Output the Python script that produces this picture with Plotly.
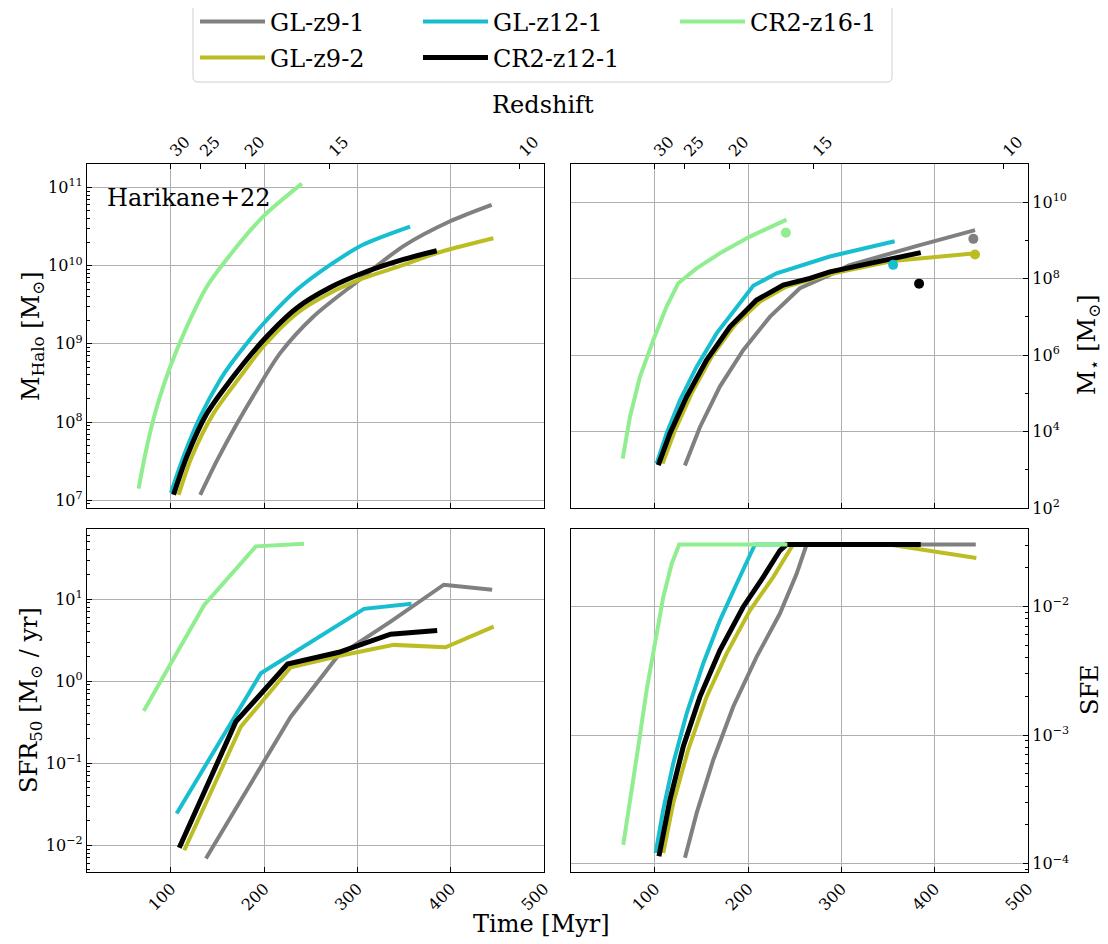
import plotly.graph_objects as go

# ---------------- data ----------------
names = ["GL-z9-1", "GL-z9-2", "GL-z12-1", "CR2-z12-1", "CR2-z16-1"]
colors = ["#808080", "#bcbd22", "#17becf", "#000000", "#90ee90"]

# Redshift axis (top): cosmic time [Myr] of each redshift tick
z_tick_time = [100, 132, 180, 270, 474]
z_tick_text = ["30", "25", "20", "15", "10"]

# Halo mass [Msun]
t_halo_gl_z9_1 = [131.4, 149.3, 170.7, 192.1, 217.1, 252.9, 300, 349.3, 399.3, 443.9]
m_halo_gl_z9_1 = [1.17e7, 3.2e7, 9.5e7, 2.57e8, 7.6e8, 2.24e9, 6.3e9, 1.78e10, 3.7e10, 6.0e10]
t_halo_gl_z9_2 = [108.2, 122.5, 145.7, 174.3, 199.3, 235, 270.7, 306.4, 349.3, 385, 445.7]
m_halo_gl_z9_2 = [1.17e7, 3.63e7, 1.29e8, 3.8e8, 9.3e8, 2.45e9, 4.47e9, 6.9e9, 1.02e10, 1.45e10, 2.24e10]
t_halo_gl_z12_1 = [100, 113.5, 131.4, 152.8, 163.6, 181.5, 199.3, 235, 270.7, 306.4, 356.4]
m_halo_gl_z12_1 = [1.24e7, 3.63e7, 1.17e8, 3.47e8, 5.4e8, 1.02e9, 1.82e9, 4.9e9, 1.02e10, 1.86e10, 3.16e10]
t_halo_cr2_z12_1 = [102.8, 117.1, 138.6, 163.6, 199.3, 235, 270.7, 306.4, 349.3, 385]
m_halo_cr2_z12_1 = [1.17e7, 3.63e7, 1.29e8, 3.39e8, 1.12e9, 2.88e9, 5.25e9, 8.1e9, 1.2e10, 1.55e10]
t_halo_cr2_z16_1 = [65.3, 74.3, 85, 99.2, 117.1, 138.6, 163.6, 199.3, 240.4]
m_halo_cr2_z16_1 = [1.41e7, 4.9e7, 1.58e8, 5.1e8, 1.66e9, 5.4e9, 1.38e10, 4.3e10, 1.12e11]

# Stellar mass [Msun]
t_star_gl_z9_1 = [132.1, 148.2, 169.6, 194.6, 223.2, 255.4, 287.5, 308, 383, 443.2]
m_star_gl_z9_1 = [1.3e3, 1.3e4, 1.5e5, 1.35e6, 1.0e7, 5.6e7, 1.26e8, 2.24e8, 7.4e8, 1.86e9]
t_star_gl_z9_2 = [108.2, 121.4, 139.3, 160.7, 185.7, 212.5, 241.1, 266.1, 287.5, 354.6, 443.9]
m_star_gl_z9_2 = [1.45e3, 1.07e4, 1.0e5, 9.1e5, 6.2e6, 2.5e7, 6.2e7, 9.3e7, 1.32e8, 2.9e8, 4.6e8]
t_star_gl_z12_1 = [101.8, 112.5, 126.8, 144.6, 166.1, 187.5, 205.4, 230.4, 287.5, 357]
m_star_gl_z12_1 = [1.45e3, 8.9e3, 6.6e4, 4.9e5, 3.7e6, 1.86e7, 6.5e7, 1.38e8, 3.8e8, 9.5e8]
t_star_cr2_z12_1 = [103.6, 116.1, 133.9, 155.4, 180.4, 208.9, 237.5, 266.1, 287.5, 385]
m_star_cr2_z12_1 = [1.32e3, 8.9e3, 8.1e4, 7.4e5, 5.5e6, 2.75e7, 6.8e7, 1.02e8, 1.51e8, 4.8e8]
t_star_cr2_z16_1 = [65.4, 73.2, 83.9, 98.2, 112.5, 125, 144.6, 169.6, 201.8, 241.1]
m_star_cr2_z16_1 = [1.95e3, 2.4e4, 2.7e5, 2.45e6, 1.86e7, 7.6e7, 1.86e8, 4.6e8, 1.26e9, 3.5e9]

# Observed stellar masses (dots), same order as names
t_obs = [441.4, 443.2, 355.4, 383.2, 240.4]
m_obs = [1.1e9, 4.3e8, 2.3e8, 7.4e7, 1.6e9]

# SFR_50 [Msun/yr]
t_sfr_gl_z9_1 = [137.5, 228.5, 278.5, 335.5, 392.6, 444.4]
sfr_gl_z9_1 = [0.0069, 0.369, 2.0, 5.33, 15.0, 13.0]
t_sfr_gl_z9_2 = [114.3, 175, 228.5, 280, 339, 394.4, 446]
sfr_gl_z9_2 = [0.0087, 0.279, 1.48, 2.03, 2.77, 2.59, 4.63]
t_sfr_gl_z12_1 = [106.1, 196.4, 307, 358]
sfr_gl_z12_1 = [0.0244, 1.25, 7.62, 8.77]
t_sfr_cr2_z12_1 = [108.9, 169.6, 225, 280, 335.5, 385.5]
sfr_cr2_z12_1 = [0.0093, 0.321, 1.62, 2.25, 3.74, 4.14]
t_sfr_cr2_z16_1 = [70.8, 135.7, 191, 242.7]
sfr_cr2_z16_1 = [0.434, 8.51, 44.0, 47.4]

# Star formation efficiency
t_sfe_gl_z9_1 = [132.2, 144.7, 162.5, 183.9, 209, 234, 251.9, 259, 262.6, 444]
sfe_gl_z9_1 = [1.11e-4, 2.47e-4, 6.4e-4, 1.66e-3, 4.05e-3, 8.8e-3, 1.79e-2, 2.56e-2, 3.03e-2, 3.03e-2]
t_sfe_gl_z9_2 = [108.9, 119.6, 135.7, 155.4, 176.8, 201.8, 226.8, 244.7, 248.2, 351, 444.6]
sfe_gl_z9_2 = [1.21e-4, 2.95e-4, 7.7e-4, 1.98e-3, 4.3e-3, 9.3e-3, 1.69e-2, 2.8e-2, 3.03e-2, 3.03e-2, 2.38e-2]
t_sfe_gl_z12_1 = [100.7, 108.9, 119.6, 134, 151.8, 169.7, 187.6, 201.8, 207.2, 357]
sfe_gl_z12_1 = [1.21e-4, 2.63e-4, 6.0e-4, 1.47e-3, 3.6e-3, 7.8e-3, 1.5e-2, 2.56e-2, 3.03e-2, 3.03e-2]
t_sfe_cr2_z12_1 = [104.3, 116.1, 130.3, 148.2, 169.7, 194.6, 216.1, 234, 241.2, 385]
sfe_cr2_z12_1 = [1.14e-4, 3.13e-4, 8.1e-4, 1.98e-3, 4.56e-3, 9.9e-3, 1.69e-2, 2.72e-2, 3.03e-2, 3.03e-2]
t_sfe_cr2_z16_1 = [66.0, 73.2, 82.1, 91.1, 100, 108.9, 117.9, 126.0, 242]
sfe_cr2_z16_1 = [1.4e-4, 2.95e-4, 8.1e-4, 2.24e-3, 5.4e-3, 1.18e-2, 2.14e-2, 3.03e-2, 3.03e-2]

halo_t = [t_halo_gl_z9_1, t_halo_gl_z9_2, t_halo_gl_z12_1, t_halo_cr2_z12_1, t_halo_cr2_z16_1]
halo_m = [m_halo_gl_z9_1, m_halo_gl_z9_2, m_halo_gl_z12_1, m_halo_cr2_z12_1, m_halo_cr2_z16_1]
star_t = [t_star_gl_z9_1, t_star_gl_z9_2, t_star_gl_z12_1, t_star_cr2_z12_1, t_star_cr2_z16_1]
star_m = [m_star_gl_z9_1, m_star_gl_z9_2, m_star_gl_z12_1, m_star_cr2_z12_1, m_star_cr2_z16_1]
sfr_t = [t_sfr_gl_z9_1, t_sfr_gl_z9_2, t_sfr_gl_z12_1, t_sfr_cr2_z12_1, t_sfr_cr2_z16_1]
sfr_v = [sfr_gl_z9_1, sfr_gl_z9_2, sfr_gl_z12_1, sfr_cr2_z12_1, sfr_cr2_z16_1]
sfe_t = [t_sfe_gl_z9_1, t_sfe_gl_z9_2, t_sfe_gl_z12_1, t_sfe_cr2_z12_1, t_sfe_cr2_z16_1]
sfe_v = [sfe_gl_z9_1, sfe_gl_z9_2, sfe_gl_z12_1, sfe_cr2_z12_1, sfe_cr2_z16_1]

x_ticks = [100, 200, 300, 400, 500]

# ---------------- figure ----------------
FONT = "DejaVu Serif"
OFF = 8                      # default page margin of the html body
W, H = 1108 - OFF, 944 - OFF
ML, MT = 87 - OFF, 164 - OFF
MR = W - (1028 - OFF)
MB = H - (872 - OFF)
PW, PH = W - ML - MR, H - MT - MB


def px2x(px):
    return (px - OFF - ML) / PW


def py2y(py):
    return (H - MB - (py - OFF)) / PH


legend_ids = ["legend", "legend2", "legend3", "legend4", "legend5"]
widths = [4, 4, 4, 5, 4]

fig = go.Figure()
panels = [
    ("x", "y", halo_t, halo_m, "spline"),
    ("x2", "y2", star_t, star_m, "linear"),
    ("x3", "y3", sfr_t, sfr_v, "linear"),
    ("x4", "y4", sfe_t, sfe_v, "linear"),
]
for p, (xa, ya, tt, vv, shape) in enumerate(panels):
    for i in range(len(names)):
        line = dict(color=colors[i], width=widths[i], shape=shape)
        if shape == "spline":
            line["smoothing"] = 0.8
        fig.add_trace(go.Scatter(
            x=tt[i], y=vv[i], mode="lines", name=names[i], line=line,
            xaxis=xa, yaxis=ya, legend=legend_ids[i],
            showlegend=(p == 0), hoverinfo="skip",
        ))
    if p == 1:
        fig.add_trace(go.Scatter(
            x=t_obs, y=m_obs, mode="markers",
            marker=dict(color=colors, size=10, line=dict(width=0)),
            xaxis=xa, yaxis=ya, showlegend=False, hoverinfo="skip",
        ))

# dummy traces for the redshift axes
fig.add_trace(go.Scatter(x=[None], y=[None], xaxis="x5", yaxis="y", showlegend=False))
fig.add_trace(go.Scatter(x=[None], y=[None], xaxis="x6", yaxis="y2", showlegend=False))

dxL = [0, px2x(544)]
dxR = [px2x(571), 1]
dyT = [py2y(508), 1]
dyB = [0, py2y(529)]

tickfont = dict(family=FONT, size=16, color="black")
common_x = dict(range=[10, 500], tickvals=x_ticks, ticks="inside", ticklen=5,
                tickcolor="black", showline=True, linecolor="black", linewidth=1.3,
                mirror=True, showgrid=True, gridcolor="#b0b0b0", gridwidth=1,
                zeroline=False, tickfont=tickfont, tickangle=-45)
top_x = dict(side="top", range=[10, 500], tickvals=z_tick_time, ticktext=z_tick_text,
             ticks="inside", ticklen=5, tickcolor="black", showgrid=False,
             showline=False, zeroline=False, tickfont=tickfont, tickangle=-45)


def sup(e):
    return "10<sup>%s</sup>" % e.replace("-", "\u2212")


def minors(lo, hi):
    out = []
    for n in range(lo, hi):
        for k in range(2, 10):
            out.append(k * 10.0 ** n)
    return out


common_y = dict(type="log", ticks="inside", ticklen=5, tickcolor="black",
                showline=True, linecolor="black", linewidth=1.3, mirror=True,
                showgrid=True, gridcolor="#b0b0b0", gridwidth=1, zeroline=False,
                tickfont=tickfont)
minor_style = dict(ticks="inside", ticklen=3, tickcolor="black", showgrid=False)

fig.update_layout(
    width=W, height=H,
    margin=dict(l=ML, r=MR, t=MT, b=MB, autoexpand=False),
    paper_bgcolor="white", plot_bgcolor="white",
    font=dict(family=FONT, size=16, color="black"),
    xaxis=dict(domain=dxL, anchor="y", showticklabels=False, **common_x),
    xaxis2=dict(domain=dxR, anchor="y2", showticklabels=False, **common_x),
    xaxis3=dict(domain=dxL, anchor="y3", **common_x),
    xaxis4=dict(domain=dxR, anchor="y4", **common_x),
    xaxis5=dict(overlaying="x", anchor="y", **top_x),
    xaxis6=dict(overlaying="x2", anchor="y2", **top_x),
    yaxis=dict(domain=dyT, anchor="x", range=[6.90, 11.30], side="left",
               tickvals=[1e7, 1e8, 1e9, 1e10, 1e11],
               ticktext=[sup(s) for s in ["7", "8", "9", "10", "11"]],
               minor=dict(tickvals=minors(6, 12), **minor_style),
               **common_y),
    yaxis2=dict(domain=dyT, anchor="x2", range=[2.0, 11.0], side="right",
                tickvals=[1e2, 1e4, 1e6, 1e8, 1e10],
                ticktext=[sup(s) for s in ["2", "4", "6", "8", "10"]],
                minor=dict(tickvals=[1e3, 1e5, 1e7, 1e9], **minor_style),
                **common_y),
    yaxis3=dict(domain=dyB, anchor="x3", range=[-2.326, 1.855], side="left",
                tickvals=[1e-2, 1e-1, 1e0, 1e1],
                ticktext=[sup(s) for s in ["-2", "-1", "0", "1"]],
                minor=dict(tickvals=minors(-3, 2), **minor_style),
                **common_y),
    yaxis4=dict(domain=dyB, anchor="x4", range=[-4.065, -1.398], side="right",
                tickvals=[1e-4, 1e-3, 1e-2],
                ticktext=[sup(s) for s in ["-4", "-3", "-2"]],
                minor=dict(tickvals=minors(-5, -1), **minor_style),
                **common_y),
)

# legends: 3 columns x 2 rows, matplotlib-like
leg_font = dict(family=FONT, size=24, color="black")
leg_pos = [(195, 22), (195, 58), (418, 22), (418, 58), (675, 22)]
leg_layout = {}
for lid, (lx, ly) in zip(legend_ids, leg_pos):
    leg_layout[lid] = dict(x=px2x(lx), y=py2y(ly), xanchor="left", yanchor="middle",
                           bgcolor="rgba(0,0,0,0)", borderwidth=0, font=leg_font,
                           itemwidth=65, orientation="v")
fig.update_layout(**leg_layout)

# legend frame (rounded)
x0, x1 = px2x(193), px2x(892)
y0, y1 = py2y(82), py2y(3)
rx, ry = 5 / PW, 5 / PH
path = (f"M {x0+rx},{y1} L {x1-rx},{y1} Q {x1},{y1} {x1},{y1-ry} "
        f"L {x1},{y0+ry} Q {x1},{y0} {x1-rx},{y0} L {x0+rx},{y0} "
        f"Q {x0},{y0} {x0},{y0+ry} L {x0},{y1-ry} Q {x0},{y1} {x0+rx},{y1} Z")
fig.add_shape(type="path", path=path, xref="paper", yref="paper",
              line=dict(color="#d0d0d0", width=1), fillcolor="rgba(255,255,255,0.8)",
              layer="below")

big = dict(family=FONT, size=24, color="black")
ann = [
    dict(text="Redshift", x=px2x(543), y=py2y(105), textangle=0),
    dict(text="Time [Myr]", x=px2x(541), y=py2y(924), textangle=0),
    dict(text="M<sub>Halo</sub> [M<sub>\u2299</sub>]", x=px2x(32), y=py2y(336), textangle=-90),
    dict(text="SFR<sub>50</sub> [M<sub>\u2299</sub> / yr]", x=px2x(30), y=py2y(700), textangle=-90),
    dict(text="M<sub>\u22c6</sub> [M<sub>\u2299</sub>]", x=px2x(1088), y=py2y(345), textangle=-90),
    dict(text="SFE", x=px2x(1090), y=py2y(690), textangle=-90),
]
for a in ann:
    fig.add_annotation(xref="paper", yref="paper", showarrow=False,
                       xanchor="center", yanchor="middle", font=big, **a)
fig.add_annotation(xref="paper", yref="paper", x=px2x(105), y=py2y(198),
                   text="Harikane+22", showarrow=False, xanchor="left",
                   yanchor="middle", font=big)

fig.write_html("out.html")
